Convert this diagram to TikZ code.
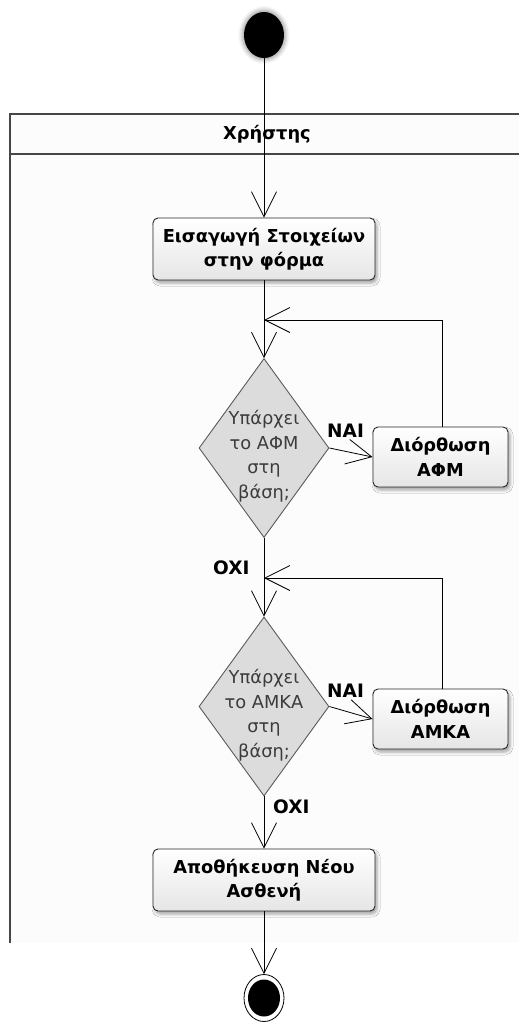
\documentclass[tikz,border=0pt]{standalone}
\usepackage{fontspec}
\setmainfont{DejaVu Sans}
\usetikzlibrary{shapes.geometric,arrows.meta,shadows.blur}

\definecolor{lanegray}{RGB}{70,70,70}
\definecolor{decfill}{RGB}{220,220,220}
\definecolor{decline}{RGB}{90,90,90}
\definecolor{dectext}{RGB}{60,60,60}

\begin{document}
\begin{tikzpicture}[x=1pt,y=-1pt,
  flow/.style={draw=black, line width=0.8pt,
    -{Straight Barb[length=25pt,width=25pt,line width=0.8pt]}},
  activity/.style={font=\fontsize{17.8}{24.5}\selectfont\bfseries,
    draw=black!85, line width=0.9pt, rounded corners=5pt,
    top color=white, bottom color=black!10,
    align=center, inner sep=0pt,
    blur shadow={shadow xshift=2pt, shadow yshift=-3pt,
      shadow blur radius=3pt, shadow opacity=35}},
  decision/.style={diamond, draw=decline, line width=0.9pt, fill=decfill,
    inner sep=0pt, minimum width=130pt, minimum height=179pt},
  dectxt/.style={font=\fontsize{17.8}{24.5}\selectfont, text=dectext,
    align=center, inner sep=0pt},
  guard/.style={font=\fontsize{18.5}{20}\selectfont\bfseries, inner sep=0pt,
    anchor=base west},
  lane/.style={draw=lanegray, line width=1.3pt},
]
\useasboundingbox (0,0) rectangle (519,1023);

% swimlane frame
\fill[black!1] (10,114) rectangle (519,943);
\draw[lane] (519,114) -- (10,114) -- (10,943);
\draw[lane] (10,154) -- (519,154);
\node[font=\fontsize{17.8}{20}\selectfont\bfseries, inner sep=0pt] (lanetitle) at (267,134) {Χρήστης};

% initial and final states
\node[ellipse, fill=black, inner sep=0pt, minimum width=40pt, minimum height=46pt,
  blur shadow={shadow xshift=0pt, shadow yshift=0pt, shadow blur radius=4pt,
    shadow opacity=40, shadow scale=1.08}] (start) at (264,35) {};
\node[ellipse, draw=black, line width=0.8pt, fill=white, inner sep=0pt,
  minimum width=40pt, minimum height=47pt] (final) at (264,998) {};
\node[ellipse, fill=black, inner sep=0pt, minimum width=32pt, minimum height=37pt]
  (finaldot) at (final.center) {};

% activities
\node[activity, minimum width=222pt, minimum height=62pt] (entry) at (264,249)
  {Εισαγωγή Στοιχείων\\στην φόρμα};
\node[activity, minimum width=135pt, minimum height=60pt] (fixafm) at (440.5,457)
  {Διόρθωση\\ΑΦΜ};
\node[activity, minimum width=135pt, minimum height=60pt] (fixamka) at (440.5,719)
  {Διόρθωση\\ΑΜΚΑ};
\node[activity, minimum width=222pt, minimum height=62pt] (save) at (264,880)
  {Αποθήκευση Νέου\\Ασθενή};

% decisions
\node[decision] (d1) at (264,448) {};
\node[dectxt] (d1txt) at (264,456) {Υπάρχει\\το ΑΦΜ\\στη\\βάση;};
\node[decision] (d2) at (264,706.5) {};
\node[dectxt] (d2txt) at (264,715) {Υπάρχει\\το ΑΜΚΑ\\στη\\βάση;};

% merge points of the correction loops
\coordinate (m1) at (264,320);
\coordinate (m2) at (264,578);

% flows
\draw[flow] (start.south) -- (entry.north);
\draw[flow] (entry.south) -- (d1.north);
\draw[flow] (d1.east) -- (fixafm.west);
\draw[flow] (fixafm.north -| 442,0) |- (m1);
\draw[flow] (d1.south) -- (d2.north);
\draw[flow] (d2.east) -- (fixamka.west);
\draw[flow] (fixamka.north -| 442,0) |- (m2);
\draw[flow] (d2.south) -- (save.north);
\draw[flow] (save.south) -- (final.north);

% guards
\node[guard] (yes1) at (327,437) {NAI};
\node[guard] (no1) at (213,574) {OXI};
\node[guard] (yes2) at (327,697) {NAI};
\node[guard] (no2) at (273,813) {OXI};
\end{tikzpicture}
\end{document}
